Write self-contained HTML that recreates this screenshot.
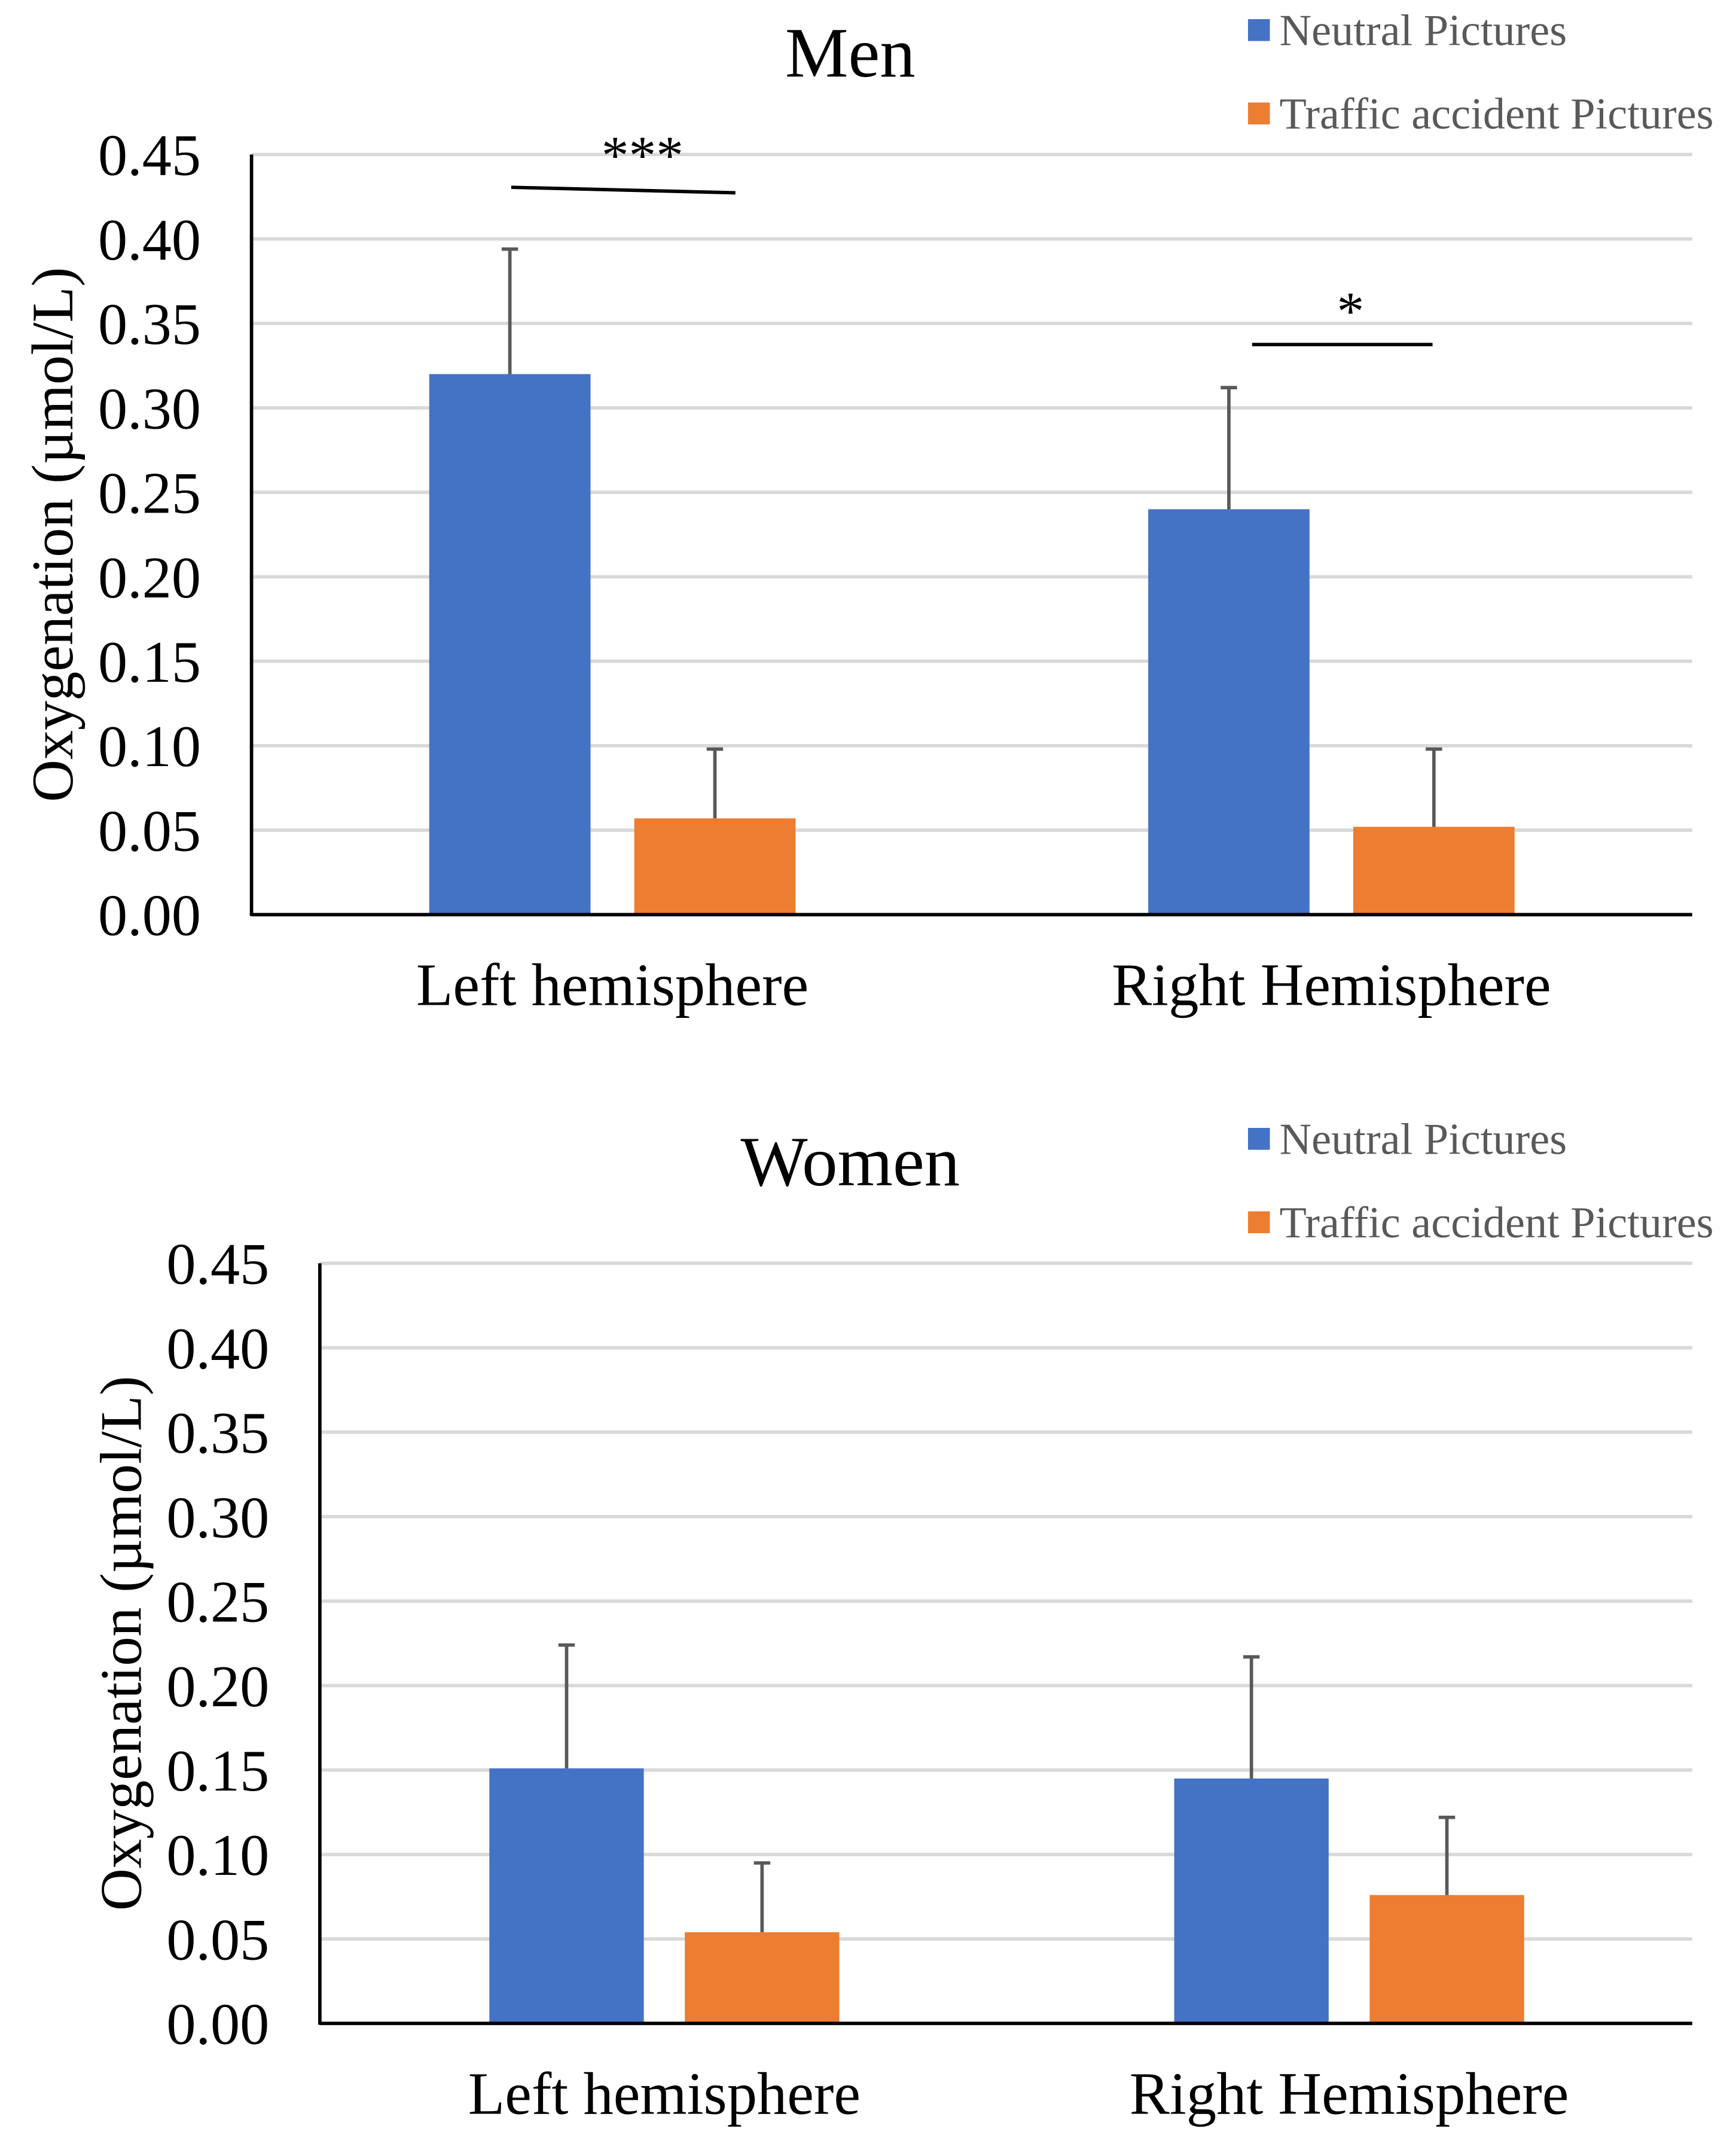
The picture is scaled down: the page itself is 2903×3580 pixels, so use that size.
<!DOCTYPE html>
<html><head><meta charset="utf-8">
<style>html,body{margin:0;padding:0;background:#fff;}svg{display:block;}</style>
</head><body>
<svg id="chart" width="2903" height="3580" viewBox="0 0 1270 1566" preserveAspectRatio="none" xmlns="http://www.w3.org/2000/svg" font-family="'Liberation Serif', serif"></svg>
<script>
const categories = ["Left hemisphere", "Right Hemisphere"];
const seriesNames = ["Neutral Pictures", "Traffic accident Pictures"];
const tickLabels = ["0.00","0.05","0.10","0.15","0.20","0.25","0.30","0.35","0.40","0.45"];
const menNeutral = [0.320, 0.240];
const menTraffic = [0.057, 0.052];
const menNeutralErr = [0.394, 0.312];
const menTrafficErr = [0.098, 0.098];
const womenNeutral = [0.151, 0.145];
const womenTraffic = [0.054, 0.076];
const womenNeutralErr = [0.224, 0.217];
const womenTrafficErr = [0.095, 0.122];
const colors = ["#4472C4", "#ED7D31"];

const svg = document.getElementById('chart');
const NS = "http://www.w3.org/2000/svg";
function mk(tag, attrs, text) {
  const e = document.createElementNS(NS, tag);
  for (const k in attrs) e.setAttribute(k, attrs[k]);
  if (text !== undefined) e.textContent = text;
  svg.appendChild(e);
  return e;
}
function txt(x, y, s, size, anchor, fill, sx) {
  return mk('text', {x: 0, y: 0, 'font-size': size, 'text-anchor': anchor, fill: fill,
    transform: `translate(${x},${y}) scale(${sx},1)`}, s);
}

function drawChart(cfg) {
  const y = v => cfg.y0 - (v / 0.45) * (cfg.y0 - cfg.y45);
  tickLabels.forEach((t, i) => {
    const v = parseFloat(t);
    if (v > 0) {
      const g = mk('line', {x1: cfg.axisX, x2: 1238, y1: y(v), y2: y(v), stroke: '#d9d9d9', 'stroke-width': 2.5});
      
      
    }
    const tl = txt(cfg.tickX, y(v) + 15, t, 43, 'end', '#000', 1);
    
    
  });
  const sets = [[cfg.neutral, cfg.neutralErr], [cfg.traffic, cfg.trafficErr]];
  categories.forEach((c, ci) => {
    sets.forEach((s, si) => {
      const x0 = cfg.barX[ci][si];
      const b = mk('rect', {x: x0, y: y(s[0][ci]), width: cfg.barW, height: y(0) - y(s[0][ci]), fill: colors[si]});
      
      
      const cx = x0 + cfg.barW / 2;
      const e1 = mk('line', {x1: cx, x2: cx, y1: y(s[0][ci]), y2: y(s[1][ci]), stroke: '#595959', 'stroke-width': 2.5});
      
      
      const e2 = mk('line', {x1: cx - 6, x2: cx + 6, y1: y(s[1][ci]), y2: y(s[1][ci]), stroke: '#595959', 'stroke-width': 2.5});
      
      
    });
    const cl = txt(cfg.catX[ci], cfg.catY, c, 44, 'middle', '#000', 1);
    
    
  });
  const ya = mk('line', {x1: cfg.axisX, x2: cfg.axisX, y1: cfg.y45, y2: y(0) + 1, stroke: '#000', 'stroke-width': 2.5});
  
  
  const xa = mk('line', {x1: cfg.axisX, x2: 1238, y1: y(0), y2: y(0), stroke: '#000', 'stroke-width': 2.5});
  
  
  const t = txt(622, cfg.titleY, cfg.title, 52, 'middle', '#000', 1);
  
  
  const yt = mk('text', {x: 0, y: 0, 'font-size': 43, 'text-anchor': 'middle', fill: '#000',
    transform: `translate(${cfg.yTitleX},${(cfg.y45 + y(0)) / 2}) rotate(-90)`}, 'Oxygenation (µmol/L)');
  
  
  seriesNames.forEach((n, i) => {
    const ly = cfg.legendY + i * 61;
    const sq = mk('rect', {x: 913, y: ly, width: 16, height: 16, fill: colors[i]});
    
    
    const lt = txt(936, ly + 19, n, 32.5, 'start', '#595959', 1);
    
    
  });
}

drawChart({title: 'Men', titleY: 56, y0: 669, y45: 113, axisX: 184, tickX: 147, yTitleX: 53,
  neutral: menNeutral, neutralErr: menNeutralErr, traffic: menTraffic, trafficErr: menTrafficErr,
  barX: [[314, 464], [840, 990]], barW: 118, catX: [448, 974], catY: 735, legendY: 14});
drawChart({title: 'Women', titleY: 867, y0: 1480, y45: 924, axisX: 234, tickX: 197, yTitleX: 103,
  neutral: womenNeutral, neutralErr: womenNeutralErr, traffic: womenTraffic, trafficErr: womenTrafficErr,
  barX: [[358, 501], [859, 1002]], barW: 113, catX: [486, 987], catY: 1546, legendY: 825});

const s1 = mk('line', {x1: 374, y1: 137, x2: 538, y2: 141, stroke: '#000', 'stroke-width': 2.5});


const s1t = txt(470, 127, '***', 40, 'middle', '#000', 1);


const s2 = mk('line', {x1: 916, y1: 252, x2: 1048, y2: 252, stroke: '#000', 'stroke-width': 2.5});


const s2t = txt(988, 241, '*', 40, 'middle', '#000', 1);


</script>
</body></html>
